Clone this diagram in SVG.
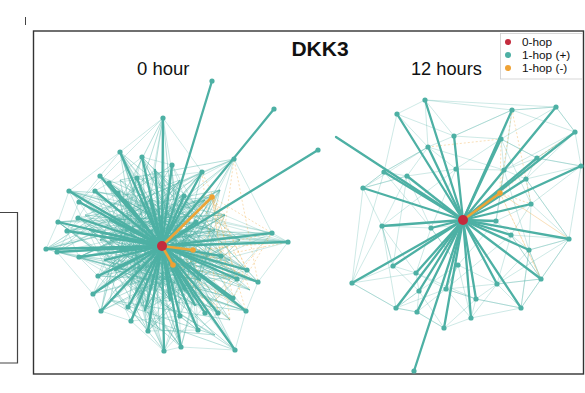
<svg xmlns="http://www.w3.org/2000/svg" width="585" height="393" viewBox="0 0 585 393">
<style>
.mesh{fill:none;stroke:#4DB0A4;stroke-width:0.5;stroke-opacity:0.55;stroke-linejoin:round}
.dmesh{fill:none;stroke:#4DB0A4;stroke-width:0.6;stroke-opacity:0.7;stroke-linejoin:round}
.omesh{fill:none;stroke:#EFA234;stroke-width:0.5;stroke-opacity:0.7;stroke-dasharray:2 2}
.sp{stroke:#4DB0A4;stroke-width:2.3;stroke-linecap:round}
.osp{stroke:#EBA437;stroke-width:2.6;stroke-linecap:round}
.n circle{fill:#4DB0A4}
.o circle{fill:#EFA234}
.h circle{fill:#C42B3D}
.t{font-family:"Liberation Sans",Arial,Helvetica,sans-serif;fill:#111}
</style>
<rect width="585" height="393" fill="#fff"/>
<line x1="25.5" y1="17" x2="25.5" y2="25" stroke="#444" stroke-width="1"/>
<polyline points="0,212.5 17.5,212.5 17.5,363 0,363" fill="none" stroke="#444" stroke-width="1.2"/>
<rect x="33.5" y="31" width="550" height="343" fill="none" stroke="#333" stroke-width="1.4"/>
<text class="t" x="320" y="56" font-size="21" font-weight="bold" text-anchor="middle">DKK3</text>
<text class="t" x="137" y="75" font-size="18.5">0 hour</text>
<text class="t" x="411" y="75" font-size="18.2">12 hours</text>
<g id="legend">
<rect x="500.5" y="33.5" width="82" height="45.5" fill="#fff" stroke="#ccc" stroke-width="0.8"/>
<circle cx="508" cy="42" r="3" fill="#C42B3D"/>
<circle cx="508" cy="55" r="3" fill="#4DB0A4"/>
<circle cx="508" cy="68" r="3" fill="#EFA234"/>
<text class="t" x="522" y="46" font-size="11.8">0-hop</text>
<text class="t" x="522" y="59" font-size="11.8">1-hop (+)</text>
<text class="t" x="522" y="72" font-size="11.8">1-hop (-)</text>
</g>
<g id="connectors">
<g id="mesh-left">
<polyline class="mesh" points="163,118 79,202 246,311 120,152 181,347 234,159 57,252 202,172 131,321 69,191 258,282 142,157 98,276 212,197 46,249 172,165 237,279 100,176 164,351 272,233 95,191 205,313 118,193 67,231 221,256 109,183 148,331 184,196 93,294 288,242 137,178 101,311 196,222 58,222 233,298 78,218 218,313 173,265 128,307 247,270 79,257 180,316 193,250 198,330"/>
<polyline class="mesh" points="120,152 69,191 58,222 46,249 57,252 93,294 101,311 131,321 164,351 181,347 235,350 246,311 258,282 288,242 272,233 234,159 202,172 163,118 120,152 100,176 79,202 67,231 79,257 98,276 128,307 148,331 198,330 218,313 233,298 247,270 221,256 196,222 184,196 172,165 142,157 109,183 95,191 78,218 57,252"/>
<polyline class="mesh" points="202,172 109,183 258,282 79,202 181,347 172,165 46,249 233,298 142,157 101,311 272,233 69,191 205,313 120,152 235,350 100,176 247,270 58,222 198,330 163,118 128,307 184,196 67,231 288,242 95,191 164,351 212,197 79,257 218,313 137,178 93,294 221,256 78,218 246,311 118,193 148,331 234,159 98,276 237,279 57,252 196,222 131,321 180,316 172,165"/>
<polyline class="dmesh" points="150,200 130,230 140,270 200,280 215,230 120,250 150,290 190,210 170,300 110,220 225,215 150,200 100,240 160,220 210,255 135,250 185,290 115,270 205,200 145,310 230,260 125,200 175,230 90,230 195,305 155,170 240,240 105,260 165,280 220,190 140,225 250,290 85,215 180,180 130,285 215,335 160,330 110,300 230,320 150,200"/>
<polyline class="dmesh" points="163,118 150,200 46,249 160,220 288,242 175,230 235,350 140,270 120,152 190,210 93,294 225,215 164,351 135,250 272,233 130,230 202,172 170,300 58,222 210,255 148,331 115,270 246,311 185,290 69,191 240,240 101,311 205,200 79,257 220,190 181,347 100,240 258,282 155,170 57,252 200,280 142,157 215,230 98,276 165,280 233,298 110,220 212,197 145,310 234,159 105,260 198,330 125,200 247,270 90,230 218,313"/>
<polyline class="dmesh" points="130,230 180,180 115,270 230,260 100,240 205,200 140,270 225,215 105,260 195,305 90,230 160,330 150,200 250,290 120,250 220,190 170,300 135,250 215,335 110,300 240,240 125,200 185,290 150,290 215,230 85,215 165,280 175,230 140,225 230,320 110,220 200,280 155,170 210,255 130,285 160,220"/>
<polyline class="dmesh" points="95,191 170,300 120,152 200,280 69,191 215,230 79,257 190,210 101,311 175,230 142,157 150,290 58,222 225,215 93,294 180,180 131,321 160,220 67,231 205,200 98,276 210,255 109,183 185,290 78,218 220,190 128,307 140,225 181,347 130,230 172,165 145,310 118,193 195,305 100,176 240,240 148,331 135,250 202,172 115,270 184,196 165,280 137,178 110,300 196,222 100,240 163,118 120,250"/>
<polyline class="dmesh" points="125,230 175,260 110,240 190,240 140,200 150,320 120,180 205,270 135,290 180,200 95,250 215,300 155,235 170,190 125,270 200,250 160,300 100,210 230,280 145,255 185,225 115,290 170,250 130,215 195,270 140,250 205,225 150,265 165,205 120,235 180,275 155,250 135,195 210,290 110,265 175,215 145,285"/>
<polyline class="dmesh" points="46,249 125,230 288,242 110,240 272,233 95,250 258,282 100,210 247,270 120,180 234,159 140,200 202,172 180,200 212,197 205,225 221,256 205,270 237,279 215,300 246,311 160,300 235,350 150,320 181,347 135,290 164,351 115,290 101,311 110,265 79,257 125,270 57,252 95,250 58,222 130,215 69,191 135,195 120,152 165,205 163,118 170,190 172,165"/>
<polyline class="omesh" points="212,197 247,270 193,250 288,242 173,265 237,279 212,197 233,298 272,233 205,313 193,250 258,282 234,159 221,256 212,197 246,311 173,265 218,313 202,172 247,270"/>
<polyline class="omesh" points="193,250 225,215 212,197 272,233 240,240 173,265 230,320 212,197 250,290"/>
</g>
<g id="mesh-right">
<polyline class="mesh" points="397,114 425,100 512,110 556,107 575,132 581,166 569,239 541,279 521,308 476,299 444,328 417,312 396,308 352,283 363,188 384,172 397,114"/>
<polyline class="mesh" points="428,147 454,136 501,139 537,158 575,132 556,107 512,110 501,139 504,170 526,179 537,158 581,166 531,204 569,239 529,250 511,235 531,204 526,179"/>
<polyline class="mesh" points="425,100 428,147 407,176 363,188 384,172 431,228 382,226 363,188 407,176 456,169 504,170 512,110 454,136 425,100"/>
<polyline class="mesh" points="352,283 382,226 393,266 352,283 396,308 419,291 416,273 393,266 382,226 407,176 384,172 428,147 397,114"/>
<polyline class="mesh" points="416,273 446,289 458,265 431,228 456,169 501,139 537,158 504,170 496,221 458,265 446,289 476,299 497,284 541,279 529,250 497,284 511,235 496,221 531,204"/>
<polyline class="mesh" points="419,291 444,328 471,318 497,284 521,308 529,250 569,239 541,279 521,308 471,318 476,299 446,289 417,312 419,291 396,308 417,312 444,328"/>
<polyline class="mesh" points="397,114 454,136 512,110 575,132 537,158 581,166 526,179 569,239 511,235 541,279 497,284 458,265 419,291 393,266 407,176 431,228 496,221 504,170 428,147 384,172 352,283 416,273 476,299 521,308 529,250 531,204 501,139 556,107 425,100"/>
<polyline class="mesh" points="363,188 428,147 456,169 382,226 416,273 431,228 458,265 471,318 446,289 497,284 569,239 526,179 575,132 504,170 529,250 541,279 511,235 446,289 396,308 382,226"/>
<polyline class="omesh" points="428,147 501,139 500,193 537,158 575,132 500,193 569,239 500,193 541,279 500,193 512,110 526,179 531,204 500,193"/>
</g>
<g id="spokes-left">
<line class="sp" x1="162" y1="246" x2="212" y2="81"/>
<line class="sp" x1="162" y1="246" x2="274" y2="109"/>
<line class="sp" x1="162" y1="246" x2="318" y2="150"/>
<line class="sp" x1="162" y1="246" x2="163" y2="118"/>
<line class="sp" x1="162" y1="246" x2="120" y2="152"/>
<line class="sp" x1="162" y1="246" x2="142" y2="157"/>
<line class="sp" x1="162" y1="246" x2="172" y2="165"/>
<line class="sp" x1="162" y1="246" x2="202" y2="172"/>
<line class="sp" x1="162" y1="246" x2="100" y2="176"/>
<line class="sp" x1="162" y1="246" x2="137" y2="178"/>
<line class="sp" x1="162" y1="246" x2="109" y2="183"/>
<line class="sp" x1="162" y1="246" x2="69" y2="191"/>
<line class="sp" x1="162" y1="246" x2="95" y2="191"/>
<line class="sp" x1="162" y1="246" x2="79" y2="202"/>
<line class="sp" x1="162" y1="246" x2="118" y2="193"/>
<line class="sp" x1="162" y1="246" x2="184" y2="196"/>
<line class="sp" x1="162" y1="246" x2="196" y2="222"/>
<line class="sp" x1="162" y1="246" x2="58" y2="222"/>
<line class="sp" x1="162" y1="246" x2="78" y2="218"/>
<line class="sp" x1="162" y1="246" x2="67" y2="231"/>
<line class="sp" x1="162" y1="246" x2="46" y2="249"/>
<line class="sp" x1="162" y1="246" x2="57" y2="252"/>
<line class="sp" x1="162" y1="246" x2="79" y2="257"/>
<line class="sp" x1="162" y1="246" x2="272" y2="233"/>
<line class="sp" x1="162" y1="246" x2="288" y2="242"/>
<line class="sp" x1="162" y1="246" x2="221" y2="256"/>
<line class="sp" x1="162" y1="246" x2="247" y2="270"/>
<line class="sp" x1="162" y1="246" x2="258" y2="282"/>
<line class="sp" x1="162" y1="246" x2="237" y2="279"/>
<line class="sp" x1="162" y1="246" x2="98" y2="276"/>
<line class="sp" x1="162" y1="246" x2="93" y2="294"/>
<line class="sp" x1="162" y1="246" x2="101" y2="311"/>
<line class="sp" x1="162" y1="246" x2="131" y2="321"/>
<line class="sp" x1="162" y1="246" x2="148" y2="331"/>
<line class="sp" x1="162" y1="246" x2="164" y2="351"/>
<line class="sp" x1="162" y1="246" x2="181" y2="347"/>
<line class="sp" x1="162" y1="246" x2="198" y2="330"/>
<line class="sp" x1="162" y1="246" x2="235" y2="350"/>
<line class="sp" x1="162" y1="246" x2="246" y2="311"/>
<line class="sp" x1="162" y1="246" x2="233" y2="298"/>
<line class="sp" x1="162" y1="246" x2="218" y2="313"/>
<line class="sp" x1="162" y1="246" x2="205" y2="313"/>
<line class="sp" x1="162" y1="246" x2="128" y2="307"/>
<line class="sp" x1="162" y1="246" x2="180" y2="316"/>
<line class="sp" x1="162" y1="246" x2="150" y2="200"/>
<line class="sp" x1="162" y1="246" x2="130" y2="230"/>
<line class="sp" x1="162" y1="246" x2="140" y2="270"/>
<line class="sp" x1="162" y1="246" x2="200" y2="280"/>
<line class="sp" x1="162" y1="246" x2="120" y2="250"/>
<line class="sp" x1="162" y1="246" x2="150" y2="290"/>
<line class="sp" x1="162" y1="246" x2="170" y2="300"/>
<line class="sp" x1="162" y1="246" x2="110" y2="220"/>
<line class="sp" x1="162" y1="246" x2="125" y2="200"/>
<line class="sp" x1="162" y1="246" x2="185" y2="290"/>
<line class="sp" x1="162" y1="246" x2="145" y2="310"/>
<line class="sp" x1="162" y1="246" x2="105" y2="260"/>
<line class="sp" x1="162" y1="246" x2="90" y2="230"/>
<line class="sp" x1="162" y1="246" x2="155" y2="170"/>
<line class="sp" x1="162" y1="246" x2="195" y2="305"/>
<line class="sp" x1="162" y1="246" x2="115" y2="270"/>
<line class="osp" x1="162" y1="246" x2="212" y2="197"/>
<line class="osp" x1="162" y1="246" x2="193" y2="250"/>
<line class="osp" x1="162" y1="246" x2="173" y2="265"/>
</g>
<g id="spokes-right">
<line class="sp" x1="463" y1="220" x2="336" y2="137"/>
<line class="sp" x1="463" y1="220" x2="425" y2="100"/>
<line class="sp" x1="463" y1="220" x2="397" y2="114"/>
<line class="sp" x1="463" y1="220" x2="512" y2="110"/>
<line class="sp" x1="463" y1="220" x2="556" y2="107"/>
<line class="sp" x1="463" y1="220" x2="575" y2="132"/>
<line class="sp" x1="463" y1="220" x2="454" y2="136"/>
<line class="sp" x1="463" y1="220" x2="428" y2="147"/>
<line class="sp" x1="463" y1="220" x2="501" y2="139"/>
<line class="sp" x1="463" y1="220" x2="537" y2="158"/>
<line class="sp" x1="463" y1="220" x2="581" y2="166"/>
<line class="sp" x1="463" y1="220" x2="384" y2="172"/>
<line class="sp" x1="463" y1="220" x2="407" y2="176"/>
<line class="sp" x1="463" y1="220" x2="363" y2="188"/>
<line class="sp" x1="463" y1="220" x2="526" y2="179"/>
<line class="sp" x1="463" y1="220" x2="531" y2="204"/>
<line class="sp" x1="463" y1="220" x2="382" y2="226"/>
<line class="sp" x1="463" y1="220" x2="431" y2="228"/>
<line class="sp" x1="463" y1="220" x2="496" y2="221"/>
<line class="sp" x1="463" y1="220" x2="569" y2="239"/>
<line class="sp" x1="463" y1="220" x2="511" y2="235"/>
<line class="sp" x1="463" y1="220" x2="529" y2="250"/>
<line class="sp" x1="463" y1="220" x2="393" y2="266"/>
<line class="sp" x1="463" y1="220" x2="352" y2="283"/>
<line class="sp" x1="463" y1="220" x2="416" y2="273"/>
<line class="sp" x1="463" y1="220" x2="419" y2="291"/>
<line class="sp" x1="463" y1="220" x2="446" y2="289"/>
<line class="sp" x1="463" y1="220" x2="541" y2="279"/>
<line class="sp" x1="463" y1="220" x2="497" y2="284"/>
<line class="sp" x1="463" y1="220" x2="476" y2="299"/>
<line class="sp" x1="463" y1="220" x2="396" y2="308"/>
<line class="sp" x1="463" y1="220" x2="417" y2="312"/>
<line class="sp" x1="463" y1="220" x2="444" y2="328"/>
<line class="sp" x1="463" y1="220" x2="471" y2="318"/>
<line class="sp" x1="463" y1="220" x2="521" y2="308"/>
<line class="sp" x1="463" y1="220" x2="414" y2="371"/>
<line class="osp" x1="463" y1="220" x2="500" y2="193"/>
</g>
</g>
<g id="nodes-left">
<g id="L1" class="n"><circle cx="212" cy="81" r="2.6"/></g>
<g id="L2" class="n"><circle cx="274" cy="109" r="2.6"/></g>
<g id="L3" class="n"><circle cx="318" cy="150" r="2.6"/></g>
<g id="L4" class="n"><circle cx="234" cy="159" r="2.6"/></g>
<g id="L5" class="n"><circle cx="163" cy="118" r="2.6"/></g>
<g id="L6" class="n"><circle cx="120" cy="152" r="2.6"/></g>
<g id="L7" class="n"><circle cx="142" cy="157" r="2.6"/></g>
<g id="L8" class="n"><circle cx="172" cy="165" r="2.6"/></g>
<g id="L9" class="n"><circle cx="202" cy="172" r="2.6"/></g>
<g id="L10" class="n"><circle cx="100" cy="176" r="2.6"/></g>
<g id="L11" class="n"><circle cx="137" cy="178" r="2.6"/></g>
<g id="L12" class="n"><circle cx="109" cy="183" r="2.6"/></g>
<g id="L13" class="n"><circle cx="69" cy="191" r="2.6"/></g>
<g id="L14" class="n"><circle cx="95" cy="191" r="2.6"/></g>
<g id="L15" class="n"><circle cx="79" cy="202" r="2.6"/></g>
<g id="L16" class="n"><circle cx="118" cy="193" r="2.6"/></g>
<g id="L17" class="n"><circle cx="184" cy="196" r="2.6"/></g>
<g id="L18" class="n"><circle cx="196" cy="222" r="2.6"/></g>
<g id="L19" class="n"><circle cx="58" cy="222" r="2.6"/></g>
<g id="L20" class="n"><circle cx="78" cy="218" r="2.6"/></g>
<g id="L21" class="n"><circle cx="67" cy="231" r="2.6"/></g>
<g id="L22" class="n"><circle cx="46" cy="249" r="2.6"/></g>
<g id="L23" class="n"><circle cx="57" cy="252" r="2.6"/></g>
<g id="L24" class="n"><circle cx="79" cy="257" r="2.6"/></g>
<g id="L25" class="n"><circle cx="272" cy="233" r="2.6"/></g>
<g id="L26" class="n"><circle cx="288" cy="242" r="2.6"/></g>
<g id="L27" class="n"><circle cx="221" cy="256" r="2.6"/></g>
<g id="L28" class="n"><circle cx="247" cy="270" r="2.6"/></g>
<g id="L29" class="n"><circle cx="258" cy="282" r="2.6"/></g>
<g id="L30" class="n"><circle cx="237" cy="279" r="2.6"/></g>
<g id="L31" class="n"><circle cx="98" cy="276" r="2.6"/></g>
<g id="L32" class="n"><circle cx="93" cy="294" r="2.6"/></g>
<g id="L33" class="n"><circle cx="101" cy="311" r="2.6"/></g>
<g id="L34" class="n"><circle cx="131" cy="321" r="2.6"/></g>
<g id="L35" class="n"><circle cx="148" cy="331" r="2.6"/></g>
<g id="L36" class="n"><circle cx="164" cy="351" r="2.6"/></g>
<g id="L37" class="n"><circle cx="181" cy="347" r="2.6"/></g>
<g id="L38" class="n"><circle cx="198" cy="330" r="2.6"/></g>
<g id="L39" class="n"><circle cx="235" cy="350" r="2.6"/></g>
<g id="L40" class="n"><circle cx="246" cy="311" r="2.6"/></g>
<g id="L41" class="n"><circle cx="233" cy="298" r="2.6"/></g>
<g id="L42" class="n"><circle cx="218" cy="313" r="2.6"/></g>
<g id="L43" class="n"><circle cx="205" cy="313" r="2.6"/></g>
<g id="L44" class="n"><circle cx="128" cy="307" r="2.6"/></g>
<g id="L45" class="n"><circle cx="180" cy="316" r="2.6"/></g>
<g id="LO1" class="o"><circle cx="212" cy="197" r="2.8"/></g>
<g id="LO2" class="o"><circle cx="193" cy="250" r="2.8"/></g>
<g id="LO3" class="o"><circle cx="173" cy="265" r="2.8"/></g>
<g id="LH" class="h"><circle cx="162" cy="246" r="5"/></g>
</g>
<g id="nodes-right">
<g id="R1" class="n"><circle cx="425" cy="100" r="2.6"/></g>
<g id="R2" class="n"><circle cx="397" cy="114" r="2.6"/></g>
<g id="R3" class="n"><circle cx="512" cy="110" r="2.6"/></g>
<g id="R4" class="n"><circle cx="556" cy="107" r="2.6"/></g>
<g id="R5" class="n"><circle cx="575" cy="132" r="2.6"/></g>
<g id="R6" class="n"><circle cx="454" cy="136" r="2.6"/></g>
<g id="R7" class="n"><circle cx="428" cy="147" r="2.6"/></g>
<g id="R8" class="n"><circle cx="501" cy="139" r="2.6"/></g>
<g id="R9" class="n"><circle cx="537" cy="158" r="2.6"/></g>
<g id="R10" class="n"><circle cx="581" cy="166" r="2.6"/></g>
<g id="R11" class="n"><circle cx="384" cy="172" r="2.6"/></g>
<g id="R12" class="n"><circle cx="407" cy="176" r="2.6"/></g>
<g id="R13" class="n"><circle cx="363" cy="188" r="2.6"/></g>
<g id="R14" class="n"><circle cx="526" cy="179" r="2.6"/></g>
<g id="R15" class="n"><circle cx="504" cy="170" r="2.6"/></g>
<g id="R16" class="n"><circle cx="531" cy="204" r="2.6"/></g>
<g id="R17" class="n"><circle cx="382" cy="226" r="2.6"/></g>
<g id="R18" class="n"><circle cx="431" cy="228" r="2.6"/></g>
<g id="R19" class="n"><circle cx="496" cy="221" r="2.6"/></g>
<g id="R20" class="n"><circle cx="569" cy="239" r="2.6"/></g>
<g id="R21" class="n"><circle cx="511" cy="235" r="2.6"/></g>
<g id="R22" class="n"><circle cx="529" cy="250" r="2.6"/></g>
<g id="R23" class="n"><circle cx="393" cy="266" r="2.6"/></g>
<g id="R24" class="n"><circle cx="352" cy="283" r="2.6"/></g>
<g id="R25" class="n"><circle cx="416" cy="273" r="2.6"/></g>
<g id="R26" class="n"><circle cx="419" cy="291" r="2.6"/></g>
<g id="R27" class="n"><circle cx="446" cy="289" r="2.6"/></g>
<g id="R28" class="n"><circle cx="458" cy="265" r="2.6"/></g>
<g id="R29" class="n"><circle cx="541" cy="279" r="2.6"/></g>
<g id="R30" class="n"><circle cx="497" cy="284" r="2.6"/></g>
<g id="R31" class="n"><circle cx="476" cy="299" r="2.6"/></g>
<g id="R32" class="n"><circle cx="396" cy="308" r="2.6"/></g>
<g id="R33" class="n"><circle cx="417" cy="312" r="2.6"/></g>
<g id="R34" class="n"><circle cx="444" cy="328" r="2.6"/></g>
<g id="R35" class="n"><circle cx="471" cy="318" r="2.6"/></g>
<g id="R36" class="n"><circle cx="521" cy="308" r="2.6"/></g>
<g id="R37" class="n"><circle cx="414" cy="371" r="2.6"/></g>
<g id="R38" class="n"><circle cx="456" cy="169" r="2.6"/></g>
<g id="RO1" class="o"><circle cx="500" cy="193" r="2.8"/></g>
<g id="RH" class="h"><circle cx="463" cy="220" r="5"/></g>
</g>
</svg>
